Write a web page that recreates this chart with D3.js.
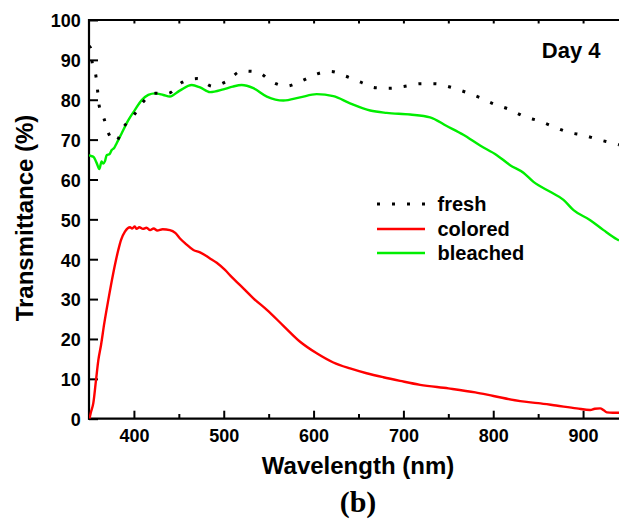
<!DOCTYPE html>
<html>
<head>
<meta charset="utf-8">
<script src="https://cdn.jsdelivr.net/npm/d3@7"></script>
<style>
  html, body { margin: 0; padding: 0; background: #fff; }
  svg { display: block; }
  text { font-family: "Liberation Sans", Arial, Helvetica, sans-serif; font-weight: bold; fill: #000; }
</style>
</head>
<body>
<svg id="chart" width="619" height="522"></svg>
<script>
// ---- data (wavelength nm, transmittance %) ----
const seriesNames = ["fresh", "colored", "bleached"];

const fresh = [
  [350,93.5],[351.9,92.9],[353.7,89.1],[357.8,85.8],[359.7,82],[361.5,78.3],[366.4,75.5],[371.5,71.7],
  [379.7,69.5],[388.2,73],[400.4,76.3],[410.5,79.5],[423.5,81.6],[438,81.6],[454,84.4],[470.6,85.3],
  [487.3,83.4],[503,84.6],[520,87.2],[537,87],[553.4,84.5],[569.7,83.4],[586.4,84.7],[602.8,86.4],
  [619,87.1],[636,85.9],[652.5,84.4],[668.8,83],[685.5,82.9],[702,83.4],[718.6,84],[735,84],
  [751.7,83.2],[768,82],[784.6,80.6],[801.3,78.9],[817.7,77.6],[834.4,75.8],[850.8,74.7],
  [867.5,73.2],[884.2,71.8],[900.5,71.1],[917.2,70],[933.5,69.1],[940,68.7]
];

const colored = [
  [350.5,0],[352,1.5],[354.8,3.9],[357.8,9.7],[360.4,14.7],[363.4,18.5],[367,23.9],[371.5,29.8],
  [377,36.5],[382.6,42.3],[385.6,44.8],[390,46.9],[395.7,48],[398,47.7],[401,48.2],[403,47.6],
  [406,48],[410,47.6],[414,47.9],[418,47.3],[422,47.7],[426,47.2],[432,47.5],[440,47.3],
  [446,46.6],[451.3,45.2],[458,43.8],[466.2,42.3],[473.6,41.7],[484.7,40.2],[492.2,39.1],
  [501.4,37.3],[509,35.5],[518.2,33.5],[533,30.2],[548,27.3],[566.4,23.3],[585,19.3],
  [603.5,16.4],[622,14.1],[640.6,12.6],[659,11.4],[677.6,10.4],[696.3,9.5],[718.6,8.5],
  [750,7.6],[780,6.6],[800.3,5.7],[830,4.4],[850,3.9],[870,3.3],[893,2.6],[908,2.2],
  [913,2.5],[919,2.6],[923,2.1],[926.5,1.6],[933,1.5],[940,1.5]
];

const bleached = [
  [350,66.1],[352,65.9],[354.8,65.7],[358.6,64.1],[361.5,62.6],[364,64.5],[366,64],[367.8,64.6],
  [369.7,66.1],[373,66.4],[375.3,67.4],[378,67.9],[380.8,69.1],[386.4,71.6],[393.8,74.9],
  [401,77.4],[408.7,79.9],[416,81.2],[423.5,81.6],[432.7,81.2],[440,80.8],[451,82.3],
  [464.4,83.7],[473.6,83.1],[484.7,81.9],[499.6,82.6],[510,83.3],[520,83.7],[533,82.9],
  [548,80.8],[566.4,79.8],[585,80.6],[603.5,81.4],[622,80.9],[640.6,79.1],[663,77.3],
  [681.4,76.7],[707.5,76.3],[729.7,75.6],[748.2,73.4],[766.7,71.2],[785.4,68.5],[804,66.1],
  [818.8,63.6],[833.6,61.7],[844.8,59.4],[863.4,56.9],[878.2,54.9],[889.4,52.3],[908,49.8],
  [922.8,47.3],[937.6,45],[940,44.7]
];

const xTicks = [400, 500, 600, 700, 800, 900];
const xMinorTicks = [450, 550, 650, 750, 850];
const yTicks = [0, 10, 20, 30, 40, 50, 60, 70, 80, 90, 100];

// ---- layout ----
const svg = d3.select("#chart");
const pLeft = 89, pRight = 619, pTop = 20, pBottom = 418.7;

const x = d3.scaleLinear().domain([350, 940]).range([pLeft, pRight]);
const y = d3.scaleLinear().domain([0, 100]).range([pBottom, pTop]);

// axes
const gx = svg.append("g").attr("transform", `translate(0,${pBottom})`)
  .call(d3.axisBottom(x).tickValues(xTicks).tickSize(-8).tickPadding(11).tickFormat(d3.format("d")));
const gxm = svg.append("g").attr("transform", `translate(0,${pBottom})`)
  .call(d3.axisBottom(x).tickValues(xMinorTicks).tickSize(-4.7).tickFormat(""));
const gt = svg.append("g").attr("transform", `translate(0,${pTop})`)
  .call(d3.axisTop(x).tickValues(xTicks.concat(xMinorTicks)).tickSize(-3.5).tickFormat(""));
const gy = svg.append("g").attr("transform", `translate(${pLeft},0)`)
  .call(d3.axisLeft(y).tickValues(yTicks).tickSize(-9).tickPadding(8.3).tickFormat(d3.format("d")));

[gx, gxm, gt, gy].forEach(g => {
  g.select(".domain").remove();
  g.selectAll(".tick line").attr("stroke", "#000").attr("stroke-width", 2);
  g.selectAll(".tick text").style("font-size", "18px")
    .style("font-family", '"Liberation Sans", Arial, sans-serif').style("font-weight", "bold").attr("fill", "#000");
});
gy.selectAll(".tick text").attr("dy", "0.38em");

// frame lines
svg.append("line").attr("x1", pLeft).attr("x2", pLeft).attr("y1", pTop - 1).attr("y2", pBottom + 1)
  .attr("stroke", "#000").attr("stroke-width", 2.2);
svg.append("line").attr("x1", pLeft - 1).attr("x2", pRight).attr("y1", pBottom).attr("y2", pBottom)
  .attr("stroke", "#000").attr("stroke-width", 2.2);
svg.append("line").attr("x1", pLeft - 1).attr("x2", pRight).attr("y1", pTop).attr("y2", pTop)
  .attr("stroke", "#000").attr("stroke-width", 2.2);

// lines
const line = d3.line().x(d => x(d[0])).y(d => y(d[1])).curve(d3.curveMonotoneX);
const styles = {
  fresh: { color: "#000", width: 3, dash: "3,12" },
  colored: { color: "#ff0000", width: 2.4, dash: null },
  bleached: { color: "#00ee00", width: 2.4, dash: null }
};
const dataMap = { fresh, colored, bleached };

svg.append("clipPath").attr("id", "clip").append("rect")
  .attr("x", pLeft).attr("y", pTop - 5).attr("width", pRight - pLeft).attr("height", pBottom - pTop + 5);

const plot = svg.append("g").attr("clip-path", "url(#clip)");
["bleached", "colored", "fresh"].forEach(name => {
  const s = styles[name];
  plot.append("path").datum(dataMap[name]).attr("d", line)
    .attr("fill", "none").attr("stroke", s.color).attr("stroke-width", s.width)
    .attr("stroke-dasharray", s.dash).attr("stroke-linejoin", "round");
});

// legend
const legendY = [204, 229, 253];
seriesNames.forEach((name, i) => {
  const s = styles[name];
  svg.append("line").attr("x1", 377).attr("x2", 425).attr("y1", legendY[i]).attr("y2", legendY[i])
    .attr("stroke", s.color).attr("stroke-width", s.width).attr("stroke-dasharray", s.dash);
  svg.append("text").attr("x", 437.5).attr("y", legendY[i] + 7).style("font-size", "20px").text(name);
});

// labels
svg.append("text").attr("x", 600.5).attr("y", 57.5).attr("text-anchor", "end").style("font-size", "22px").text("Day 4");
svg.append("text").attr("x", 358).attr("y", 474).attr("text-anchor", "middle").style("font-size", "24px").text("Wavelength (nm)");
svg.append("text").attr("transform", "translate(33,218) rotate(-90)").attr("text-anchor", "middle")
  .style("font-size", "24px").text("Transmittance (%)");
svg.append("text").attr("x", 358).attr("y", 512).attr("text-anchor", "middle")
  .style("font-family", '"Liberation Serif", "Times New Roman", serif').style("font-size", "30px").text("(b)");
</script>
</body>
</html>
